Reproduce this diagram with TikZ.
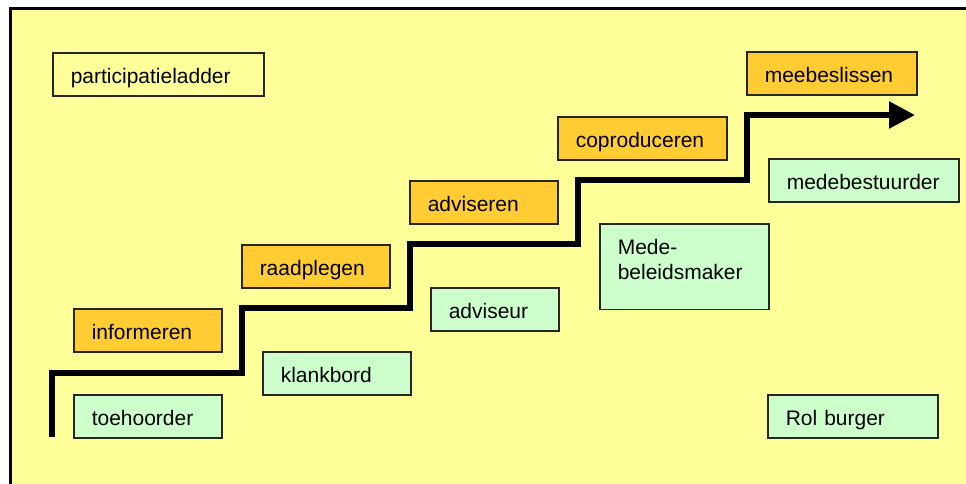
\documentclass[tikz,border=0pt]{standalone}
\usepackage{fontspec}
\setmainfont{Liberation Sans}
\usetikzlibrary{arrows.meta}
\definecolor{achtergrond}{HTML}{FFFF99}
\definecolor{tredekleur}{HTML}{FFCC33}
\definecolor{rolkleur}{HTML}{CCFFCC}
\begin{document}
\begin{tikzpicture}[x=1pt,y=-1pt,
    vak/.style={draw=black!85,line width=1.5pt,anchor=north west,align=left,
      font=\fontsize{21}{25}\selectfont,inner xsep=18pt,inner ysep=12.5pt,
      text height=18pt,text depth=0pt,text width=#1pt-36pt},
    trede/.style={vak=#1,fill=tredekleur},
    rol/.style={vak=#1,fill=rolkleur}]
      \useasboundingbox (0,0) rectangle (966,483);
      \fill[white] (0,0) rectangle (966,483);
      \fill[achtergrond] (10,8) rectangle (975,490);
      \draw[line width=3pt] (10,490) -- (10,8) -- (975,8);
      \draw
        (52,52) node[vak=211] (ladder){participatieladder}
        (73,308) node[trede=148] (informeren){informeren}
        (241,244) node[trede=148] (raadplegen){raadplegen}
        (409,180) node[trede=148] (adviseren){adviseren}
        (557,116) node[trede=169] (coproduceren){coproduceren}
        (746,51) node[trede=170] (meebeslissen){meebeslissen}
        (73,394) node[rol=148] (toehoorder){toehoorder}
        (262,351) node[rol=148] (klankbord){klankbord}
        (430,287) node[rol=128] (adviseur){adviseur}
        (599,223) node[rol=169,text depth=42.5pt] (medebeleid){Mede-\\beleidsmaker}
        (768,158) node[rol=190] (medebestuurder){medebestuurder}
        (767,394) node[rol=170] (rolburger){Rol burger};
      \draw[line width=5.5pt,-{Triangle[length=26pt,width=26pt]}]
        (52,437) |- (242,373) |- (410,308) |- (578,244)
        |- (747,180) |- (915,115);
    \end{tikzpicture}
\end{document}
